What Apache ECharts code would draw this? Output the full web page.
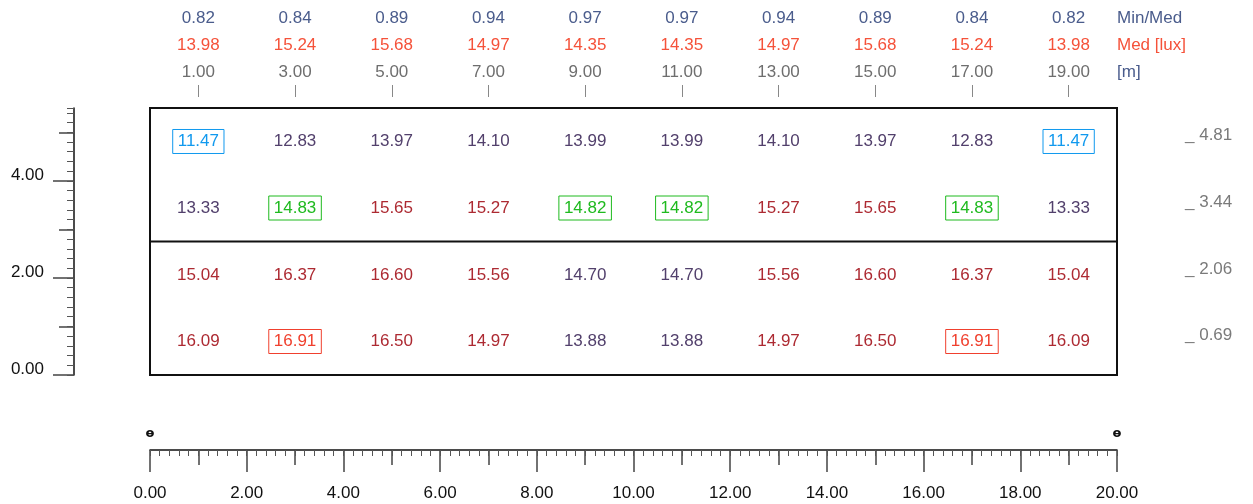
<!DOCTYPE html>
<html>
<head>
<meta charset="utf-8">
<script src="https://cdn.jsdelivr.net/npm/echarts@6/dist/echarts.min.js"></script>
<style>
  html, body { margin: 0; padding: 0; background: #fff; }
  #plot { width: 1253px; height: 504px; }
</style>
</head>
<body>
<div id="plot"></div>
<script>
// grid positions (m)
var colX = [1, 3, 5, 7, 9, 11, 13, 15, 17, 19];
var rowY = [4.81, 3.44, 2.06, 0.69];
var colLabels = ['1.00', '3.00', '5.00', '7.00', '9.00', '11.00', '13.00', '15.00', '17.00', '19.00'];
var rowLabels = ['0.69', '2.06', '3.44', '4.81'];

// column stats
var colMed = ['13.98', '15.24', '15.68', '14.97', '14.35', '14.35', '14.97', '15.68', '15.24', '13.98'];
var colMinMed = ['0.82', '0.84', '0.89', '0.94', '0.97', '0.97', '0.94', '0.89', '0.84', '0.82'];

// illuminance values [lux], rows top to bottom
var row1 = [11.47, 12.83, 13.97, 14.10, 13.99, 13.99, 14.10, 13.97, 12.83, 11.47];
var row2 = [13.33, 14.83, 15.65, 15.27, 14.82, 14.82, 15.27, 15.65, 14.83, 13.33];
var row3 = [15.04, 16.37, 16.60, 15.56, 14.70, 14.70, 15.56, 16.60, 16.37, 15.04];
var row4 = [16.09, 16.91, 16.50, 14.97, 13.88, 13.88, 14.97, 16.50, 16.91, 16.09];
var rows = [row1, row2, row3, row4];

// room divider / reference markers
var roomX = [0, 20];
var dividerY = 2.75;
var markerX = [0, 20];
var markerY = -1.2;

var FONT = 'Liberation Sans';

var allVals = [].concat(row1, row2, row3, row4);
var vMin = Math.min.apply(null, allVals);
var vMax = Math.max.apply(null, allVals);
var vMean = allVals.reduce((a, b) => a + b, 0) / allVals.length;

var cellData = [];
rows.forEach(function (row, r) {
  row.forEach(function (v, c) {
    var lbl = { color: v < vMean ? '#52406c' : '#ad2a32' };
    var box = null;
    if (v === vMin) box = '#1199ee';
    else if (v === vMax) box = '#f0402e';
    else if (Math.abs(v - vMean) < 0.05) box = '#1fba1f';
    if (box) {
      lbl.color = box;
      lbl.borderColor = box;
      lbl.borderWidth = 1;
      lbl.padding = [4, 5, 3, 5];
    }
    cellData.push({ value: [colX[c], rowY[r], v], label: lbl });
  });
});

var myChart = echarts.init(document.getElementById('plot'));

function ruler(dir, extra) {
  var a = {
    type: 'value', min: 0, max: dir === 'x' ? 20 : 5.5,
    position: dir === 'x' ? 'bottom' : 'left',
    offset: dir === 'x' ? 75 : 76,
    axisLine: { show: false, onZero: false },
    axisLabel: { show: false },
    splitLine: { show: false }
  };
  return Object.assign(a, extra);
}

var option = {
  animation: false,
  grid: {
    left: 150, right: 136, top: 108, bottom: 129,
    show: true, borderColor: '#111', borderWidth: 2
  },
  xAxis: [
    { type: 'value', min: 0, max: 20, show: false },
    {
      type: 'category', position: 'top', data: colLabels, offset: 11,
      axisLine: { show: false, onZero: false },
      axisTick: { show: true, alignWithLabel: true, length: 12, lineStyle: { color: '#888' } },
      axisLabel: {
        margin: 11,
        formatter: function (v, i) {
          return '{a|' + colMinMed[i] + '}\n{b|' + colMed[i] + '}\n{c|' + v + '}';
        },
        rich: {
          a: { color: '#4a5c8c', fontSize: 17, fontFamily: FONT, lineHeight: 27 },
          b: { color: '#f5523a', fontSize: 17, fontFamily: FONT, lineHeight: 27 },
          c: { color: '#6e6e6e', fontSize: 17, fontFamily: FONT, lineHeight: 27 }
        }
      }
    },
    ruler('x', {
      interval: 2,
      axisTick: { show: true, length: 22, lineStyle: { color: '#444', width: 1.5 } },
      axisLabel: { show: true, margin: 35, color: '#111', fontSize: 17, fontFamily: FONT, formatter: v => v.toFixed(2) }
    }),
    ruler('x', {
      interval: 1,
      axisTick: { show: true, length: 15, lineStyle: { color: '#444', width: 1.5 } }
    }),
    ruler('x', {
      interval: 0.2,
      axisLine: { show: true, onZero: false, lineStyle: { color: '#111', width: 1.5 } },
      axisTick: { show: true, length: 6, lineStyle: { color: '#555', width: 1 } }
    })
  ],
  yAxis: [
    { type: 'value', min: 0, max: 5.5, show: false },
    {
      type: 'category', position: 'right', data: rowLabels,
      axisLine: { show: false, onZero: false }, axisTick: { show: false },
      axisLabel: {
        margin: 68, color: '#7a7a7a', fontSize: 17, fontFamily: FONT,
        verticalAlign: 'bottom', lineHeight: 12,
        formatter: '_ {value}'
      }
    },
    ruler('y', {
      axisTick: { show: true, length: 21, customValues: [0, 2, 4], lineStyle: { color: '#444', width: 1.5 } },
      axisLabel: {
        show: true, margin: 30, color: '#111', fontSize: 17, fontFamily: FONT,
        customValues: [0, 2, 4], verticalAlign: 'bottom', lineHeight: 12,
        formatter: v => v.toFixed(2)
      }
    }),
    ruler('y', {
      axisTick: { show: true, length: 15, customValues: [1, 3, 5], lineStyle: { color: '#444', width: 1.5 } }
    }),
    ruler('y', {
      interval: 0.2,
      axisLine: { show: true, onZero: false, lineStyle: { color: '#111', width: 1.5 } },
      axisTick: { show: true, length: 7, lineStyle: { color: '#555', width: 1 } }
    })
  ],
  graphic: [{
    type: 'text', left: 1117, top: 10,
    style: {
      text: '{a|Min/Med}\n{b|Med [lux]}\n{a|[m]}',
      rich: {
        a: { fill: '#4a5c8c', fontSize: 17, fontFamily: FONT, lineHeight: 27 },
        b: { fill: '#f5523a', fontSize: 17, fontFamily: FONT, lineHeight: 27 }
      }
    }
  }],
  series: [
    {
      type: 'line', xAxisIndex: 0, yAxisIndex: 0, silent: true,
      data: roomX.map(x => [x, dividerY]),
      symbol: 'none', lineStyle: { color: '#111', width: 2 }
    },
    {
      type: 'scatter', xAxisIndex: 0, yAxisIndex: 0, silent: true,
      symbolSize: 1, itemStyle: { color: 'rgba(0,0,0,0)', opacity: 1 },
      label: {
        show: true, position: 'inside', fontSize: 17, fontFamily: FONT,
        textBorderWidth: 0,
        formatter: p => p.value[2].toFixed(2)
      },
      data: cellData
    },
    {
      type: 'scatter', xAxisIndex: 0, yAxisIndex: 0, silent: true, clip: false,
      symbolSize: 1, itemStyle: { color: 'rgba(0,0,0,0)', opacity: 1 },
      label: { show: true, position: 'inside', formatter: 'ɵ', fontSize: 13, fontWeight: 'bold', color: '#111', textBorderWidth: 0, fontFamily: 'DejaVu Sans' },
      data: markerX.map(x => [x, markerY])
    }
  ]
};

myChart.setOption(option);
</script>
</body>
</html>
